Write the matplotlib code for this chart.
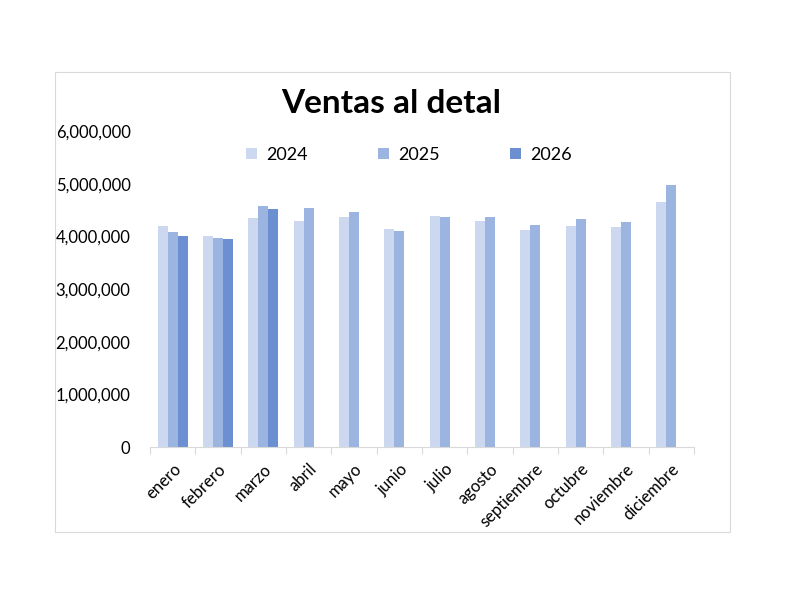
import numpy as np
import matplotlib.pyplot as plt
from matplotlib.patches import Rectangle
from matplotlib.ticker import FuncFormatter

plt.rcParams['font.family'] = ['Lato', 'DejaVu Sans']

# data
meses = ['enero', 'febrero', 'marzo', 'abril', 'mayo', 'junio', 'julio',
         'agosto', 'septiembre', 'octubre', 'noviembre', 'diciembre']
v2024 = [4196000, 4000000, 4348000, 4290000, 4360000, 4130000, 4380000,
         4290000, 4120000, 4200000, 4180000, 4660000]
v2025 = [4080000, 3968000, 4576000, 4540000, 4460000, 4110000, 4367000,
         4360000, 4210000, 4330000, 4270000, 4970000]
v2026 = [4006000, 3940000, 4520000]
series = [('2024', v2024, '#cbd8ef'), ('2025', v2025, '#9bb4e0'), ('2026', v2026, '#6b8fd1')]

fig = plt.figure(figsize=(7.92, 6.12), dpi=100)
# chart area border
fig.patches.append(Rectangle((55 / 792, 1 - 532 / 612), 675 / 792, 460 / 612,
                             transform=fig.transFigure, fill=False,
                             edgecolor='#d9d9d9', linewidth=0.8))

ax = fig.add_axes([150 / 792, 1 - 447 / 612, 544 / 792, 316 / 612])
x = np.arange(len(meses))
w = 1 / 4.5
for i, (name, vals, col) in enumerate(series):
    ax.bar(x[:len(vals)] + (i - 1) * w, vals, width=w, color=col, label=name)

ax.set_xlim(-0.5, len(meses) - 0.5)
ax.set_ylim(0, 6000000)
ax.set_yticks(np.arange(0, 6000001, 1000000))
ax.yaxis.set_major_formatter(FuncFormatter(lambda v, p: f'{int(v):,}'))
ax.set_xticks(x)
ax.set_xticklabels(meses, rotation=45, ha='right', rotation_mode='anchor')
ax.set_xticks(np.arange(-0.5, len(meses)), minor=True)
ax.tick_params(axis='y', length=0, labelsize=12, pad=14)
ax.tick_params(axis='x', which='major', length=0, labelsize=12, pad=10)
ax.tick_params(axis='x', which='minor', length=5, color='#d9d9d9', width=0.8)
for s in ['top', 'right', 'left']:
    ax.spines[s].set_visible(False)
ax.spines['bottom'].set_color('#d9d9d9')

fig.text(391 / 792, 1 - 103 / 612, 'Ventas al detal', ha='center', va='center',
         fontsize=24, fontweight='bold')
fig.legend(loc='center', bbox_to_anchor=(409 / 792, 1 - 155 / 612), ncol=3,
           frameon=False, fontsize=13, handlelength=0.6, handleheight=0.6,
           handletextpad=0.5, columnspacing=3.9)

fig.savefig('out.png', dpi=100)
